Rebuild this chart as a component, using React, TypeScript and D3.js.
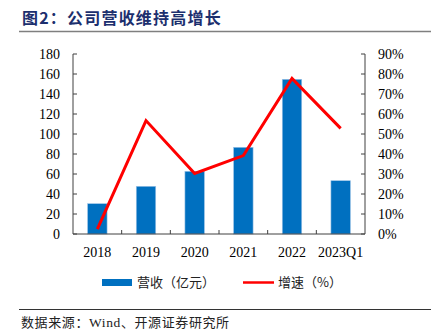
import React from "react";
import * as d3 from "d3";

const categories = ["2018", "2019", "2020", "2021", "2022", "2023Q1"];
const revenue = [30.3, 47.7, 62.7, 86.7, 154.7, 53.3];
const growth = [2.4, 56.7, 30.3, 39.2, 77.8, 52.8];
const leftTicks = [0, 20, 40, 60, 80, 100, 120, 140, 160, 180];
const rightTicks = [0, 10, 20, 30, 40, 50, 60, 70, 80, 90];

const W = 439;
const H = 336;
const plotLeft = 73;
const plotRight = 365;
const plotTop = 54;
const plotBottom = 234;

export default function App() {
  const x = d3.scaleBand<string>().domain(categories).range([plotLeft, plotRight]).padding(0);
  const yL = d3.scaleLinear().domain([0, 180]).range([plotBottom, plotTop]);
  const yR = d3.scaleLinear().domain([0, 90]).range([plotBottom, plotTop]);
  const bw = x.bandwidth();
  const barW = bw * 0.4;
  const line = d3
    .line<number>()
    .x((_, i) => (x(categories[i]) as number) + bw / 2)
    .y((d) => yR(d));

  const serif = "'Liberation Serif', 'Times New Roman', serif";
  const cjk = "'Noto Sans CJK SC', sans-serif";

  return (
    <svg
      width={W}
      height={H}
      style={{ position: "absolute", left: 0, top: 0, background: "#fff" }}
    >
      {/* Title */}
      <text x={22} y={24} fontFamily={cjk} fontWeight={700} fontSize={16} fill="#1c2f6e" letterSpacing={1.2}>
        图2：公司营收维持高增长
      </text>
      <line x1={19} x2={431} y1={31.5} y2={31.5} stroke="#7f7f7f" strokeWidth={1.5} />

      {/* bars */}
      {revenue.map((v, i) => {
        const cx = (x(categories[i]) as number) + bw / 2;
        return (
          <rect
            key={i}
            x={cx - barW / 2}
            y={yL(v)}
            width={barW}
            height={plotBottom - yL(v)}
            fill="#0070c0"
            stroke="#9dc3e6"
            strokeWidth={0.6}
          />
        );
      })}

      {/* line */}
      <path d={line(growth) || ""} fill="none" stroke="#ff0000" strokeWidth={3} strokeLinejoin="miter" />

      {/* left axis */}
      <line x1={plotLeft} x2={plotLeft} y1={plotTop} y2={plotBottom} stroke="#404040" strokeWidth={1} />
      {leftTicks.map((t) => (
        <g key={"l" + t}>
          <line x1={plotLeft} x2={plotLeft + 4} y1={yL(t)} y2={yL(t)} stroke="#404040" />
          <text x={60} y={yL(t)} dy="0.35em" textAnchor="end" fontFamily={serif} fontSize={14} fill="#000">
            {t}
          </text>
        </g>
      ))}

      {/* right axis */}
      <line x1={plotRight} x2={plotRight} y1={plotTop} y2={plotBottom} stroke="#404040" strokeWidth={1} />
      {rightTicks.map((t) => (
        <g key={"r" + t}>
          <line x1={plotRight - 4} x2={plotRight} y1={yR(t)} y2={yR(t)} stroke="#404040" />
          <text x={378} y={yR(t)} dy="0.35em" textAnchor="start" fontFamily={serif} fontSize={14} fill="#000">
            {t + "%"}
          </text>
        </g>
      ))}

      {/* bottom axis */}
      <line x1={plotLeft} x2={plotRight} y1={plotBottom} y2={plotBottom} stroke="#404040" strokeWidth={1} />
      {categories.map((c, i) => (
        <g key={"b" + c}>
          {i > 0 && (
            <line
              x1={x(c) as number}
              x2={x(c) as number}
              y1={plotBottom}
              y2={plotBottom - 4}
              stroke="#404040"
            />
          )}
          <text
            x={(x(c) as number) + bw / 2}
            y={257}
            textAnchor="middle"
            fontFamily={serif}
            fontSize={14}
            fill="#000"
          >
            {c}
          </text>
        </g>
      ))}

      {/* legend */}
      <rect x={102} y={279} width={30} height={7} fill="#0070c0" />
      <text x={137} y={287} fontFamily={cjk} fontSize={13} fill="#222">
        营收（亿元）
      </text>
      <line x1={243} x2={274} y1={282.5} y2={282.5} stroke="#ff0000" strokeWidth={2.5} />
      <text x={278} y={287} fontFamily={cjk} fontSize={13} fill="#222">
        增速（%）
      </text>

      {/* footer */}
      <line x1={19} x2={431} y1={309.5} y2={309.5} stroke="#333" strokeWidth={1} />
      <text x={21} y={327} fontFamily={cjk} fontSize={13} fill="#222" letterSpacing={0.6}>
        数据来源：<tspan fontFamily={serif} fontSize={13.5}>Wind</tspan>、开源证券研究所
      </text>
    </svg>
  );
}
